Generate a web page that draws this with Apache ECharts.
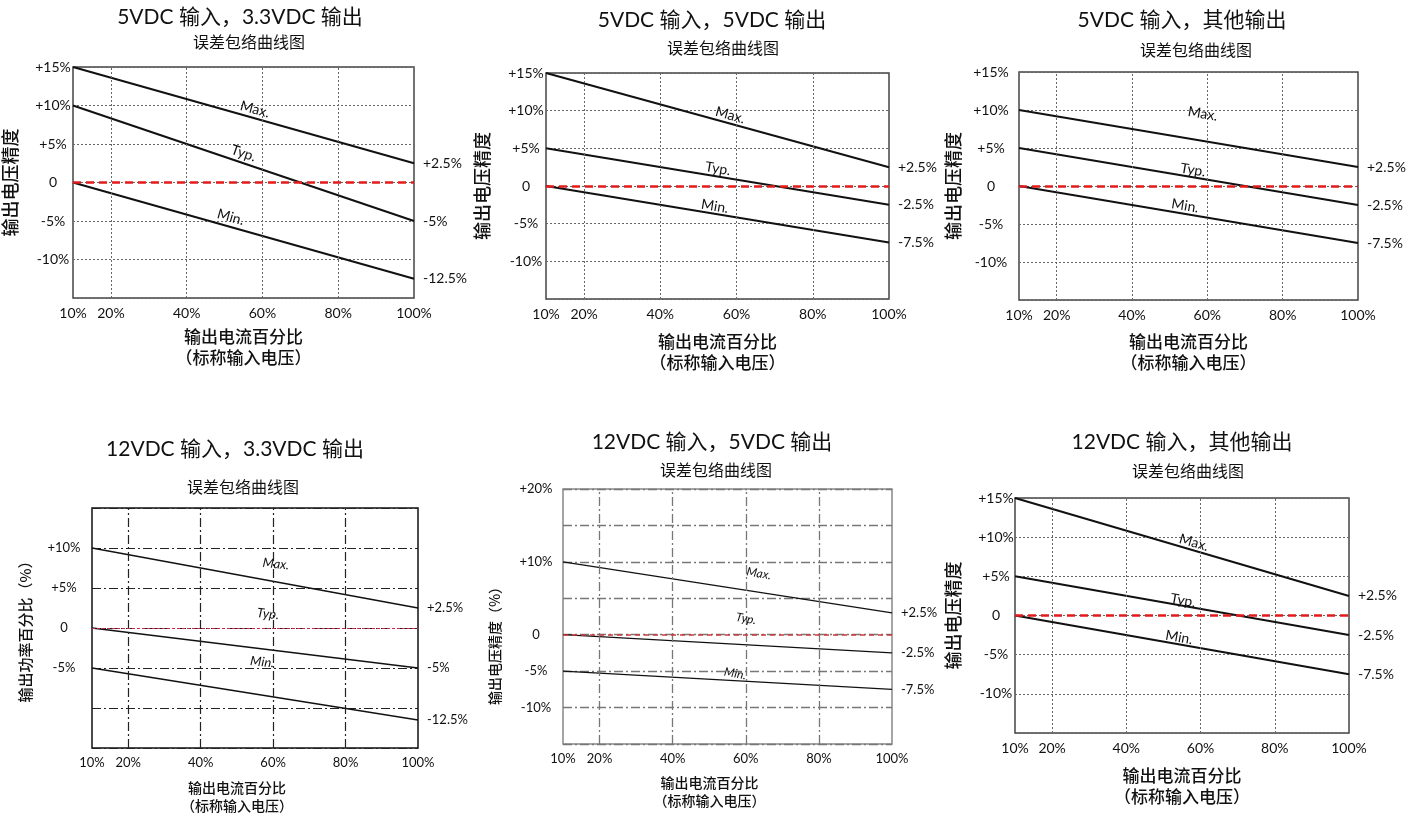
<!DOCTYPE html>
<html><head><meta charset="utf-8">
<script src="https://cdn.jsdelivr.net/npm/echarts@6/dist/echarts.min.js"></script>
<style>html,body{margin:0;padding:0;background:#fff}#c{width:1418px;height:818px}</style>
</head><body><div id="c"></div>
<script>
// ---------- data ----------
const loadPct = [10, 100];
const xTickVals = [10, 20, 40, 60, 80, 100];
const xTickText = ['10%', '20%', '40%', '60%', '80%', '100%'];
const xGridVals = [20, 40, 60, 80];
const curveNames = ['Max.', 'Typ.', 'Min.'];

const p1Max = [15, 2.5],  p1Typ = [10, -5],   p1Min = [0, -12.5];
const p2Max = [15, 2.5],  p2Typ = [5, -2.5],  p2Min = [0, -7.5];
const p3Max = [10, 2.5],  p3Typ = [5, -2.5],  p3Min = [0, -7.5];
const p4Max = [10, 2.5],  p4Typ = [0, -5],    p4Min = [-5, -11.5];
const p5Max = [10, 3],    p5Typ = [0, -2.5],  p5Min = [-5, -7.5];
const p6Max = [15, 2.5],  p6Typ = [5, -2.5],  p6Min = [0, -7.5];

const p1End = ['+2.5%', '-5%', '-12.5%'];
const p2End = ['+2.5%', '-2.5%', '-7.5%'];
const p3End = ['+2.5%', '-2.5%', '-7.5%'];
const p4End = ['+2.5%', '-5%', '-12.5%'];
const p5End = ['+2.5%', '-2.5%', '-7.5%'];
const p6End = ['+2.5%', '-2.5%', '-7.5%'];

const titles = ['5VDC 输入，3.3VDC 输出', '5VDC 输入，5VDC 输出', '5VDC 输入，其他输出',
                '12VDC 输入，3.3VDC 输出', '12VDC 输入，5VDC 输出', '12VDC 输入，其他输出'];
const subtitle = '误差包络曲线图';
const xName = '输出电流百分比\n（标称输入电压）';
const yNames = ['输出电压精度', '输出电压精度', '输出电压精度', '输出功率百分比（%）', '输出电压精度（%）', '输出电压精度'];

const yTickValsA = [15, 10, 5, 0, -5, -10], yTickTextA = ['+15%', '+10%', '+5%', '0', '-5%', '-10%'];
const yTickValsB = [10, 5, 0, -5],          yTickTextB = ['+10%', '+5%', '0', '-5%'];
const yTickValsC = [20, 10, 0, -5, -10],    yTickTextC = ['+20%', '+10%', '0', '-5%', '-10%'];

// positions (in data units) of the Max./Typ./Min. annotations
const noteX = [[58, 55, 51.6], [58.3, 55.1, 54.3], [58.8, 56.2, 54.1], [60.8, 58.6, 57], [63.6, 60.1, 57.1], [58.2, 55.3, 54.2]];
const noteY = [[9.5, 3.8, -4.5], [9.4, 2.3, -2.7], [9.5, 2.1, -2.6], [8, 1.75, -4.25], [8.4, 2.2, -5.35], [9.3, 1.9, -2.8]];

const curves = [[p1Max, p1Typ, p1Min], [p2Max, p2Typ, p2Min], [p3Max, p3Typ, p3Min],
                [p4Max, p4Typ, p4Min], [p5Max, p5Typ, p5Min], [p6Max, p6Typ, p6Min]];
const ends = [p1End, p2End, p3End, p4End, p5End, p6End];
const yTicks = [[yTickValsA, yTickTextA], [yTickValsA, yTickTextA], [yTickValsA, yTickTextA],
                [yTickValsB, yTickTextB], [yTickValsC, yTickTextC], [yTickValsA, yTickTextA]];

// ---------- layout / style ----------
const FONT = "'Century Gothic','Lato','Noto Sans CJK SC',sans-serif";
const CJK = "'Noto Sans CJK SC',sans-serif";
const DOT = [2, 2];
const DASHDOT = [9, 3, 2, 3];
const panels = [
  {g: {left: 72, top: 67, width: 342, height: 231}, yMax: 15, t: [240, 20], s: [249, 44], yGap: 54, yMargin: 20, xGap: 28, yShift: 0, xShift: 0,
   grid: {type: DOT, color: '#666', width: 1}, border: '#444', lw: 2, red: {color: '#e41b1b', width: 2.6, type: [8, 5]},
   tick: 14, nameFs: 17, yNameFs: 18, subFs: 16, endFs: 14, noteFs: 14, italic: false, rot: null},
  {g: {left: 546, top: 73, width: 343, height: 226}, yMax: 15, t: [712, 23], s: [723, 50], yGap: 55, yMargin: 20, xGap: 32, yShift: 0, xShift: 0,
   grid: {type: DOT, color: '#666', width: 1}, border: '#444', lw: 2, red: {color: '#e41b1b', width: 2.6, type: [8, 5]},
   tick: 14, nameFs: 17, yNameFs: 18, subFs: 16, endFs: 14, noteFs: 14, italic: false, rot: null},
  {g: {left: 1019, top: 72, width: 339, height: 228}, yMax: 15, t: [1182, 23], s: [1196, 52], yGap: 57, yMargin: 28, xGap: 31, yShift: 0, xShift: 0,
   grid: {type: DOT, color: '#666', width: 1}, border: '#444', lw: 2, red: {color: '#e41b1b', width: 2.6, type: [8, 5]},
   tick: 14, nameFs: 17, yNameFs: 18, subFs: 16, endFs: 14, noteFs: 14, italic: false, rot: null},
  {g: {left: 92, top: 508, width: 326, height: 240}, yMax: 15, t: [235, 452], s: [243, 489], yGap: 59, yMargin: 28, xGap: 31, yShift: 0, xShift: 18,
   grid: {type: DASHDOT, color: '#222', width: 1.2}, border: '#111', lw: 1.3, red: {color: '#c8284a', width: 1, type: [3, 2]},
   tick: 13, nameFs: 14, yNameFs: 15, subFs: 16, endFs: 13, noteFs: 13, italic: true, rot: -6},
  {g: {left: 563, top: 489, width: 329, height: 255}, yMax: 20, t: [712, 445], s: [716, 472], yGap: 61, yMargin: 27, xGap: 30, yShift: 26, xShift: 18,
   grid: {type: DASHDOT, color: '#777', width: 1.3}, border: '#888', lw: 1.2, red: {color: '#d03838', width: 1.6, type: [5, 4]},
   tick: 13, nameFs: 14, yNameFs: 14, subFs: 16, endFs: 13, noteFs: 12, italic: true, rot: -10},
  {g: {left: 1015, top: 498, width: 334, height: 235}, yMax: 15, t: [1182, 445], s: [1188, 473], yGap: 53, yMargin: 19, xGap: 32, yShift: 0, xShift: 0,
   grid: {type: DOT, color: '#666', width: 1}, border: '#444', lw: 2, red: {color: '#e41b1b', width: 2.6, type: [8, 5]},
   tick: 14, nameFs: 17, yNameFs: 18, subFs: 16, endFs: 14, noteFs: 14, italic: false, rot: null}
];
const Y_MIN = -15;

const option = {
  backgroundColor: '#fff', animation: false,
  title: [], grid: [], xAxis: [], yAxis: [], series: []
};

panels.forEach((p, i) => {
  option.title.push({text: titles[i], left: p.t[0], top: p.t[1] - 13, textAlign: 'center', padding: 0,
    textStyle: {fontSize: 21, fontWeight: 'normal', color: '#111', fontFamily: FONT}});
  option.title.push({text: subtitle, left: p.s[0], top: p.s[1] - p.subFs / 2 - 2, textAlign: 'center', padding: 0,
    textStyle: {fontSize: p.subFs, fontWeight: 'normal', color: '#111', fontFamily: CJK}});
  option.grid.push(Object.assign({show: true, borderColor: p.border, borderWidth: 1.5, backgroundColor: 'transparent', containLabel: false}, p.g));
  option.xAxis.push({
    type: 'value', gridIndex: i, min: 10, max: 100, interval: 10,
    axisLine: {show: false}, axisTick: {show: false}, splitLine: {show: false},
    axisLabel: {show: true, showMinLabel: true, showMaxLabel: true, margin: 8, fontSize: p.tick, color: '#111', fontFamily: FONT,
      formatter: v => { const k = xTickVals.indexOf(v); return k >= 0 ? xTickText[k] : ''; }},
    name: xName, nameLocation: 'middle', nameGap: p.xGap,
    nameTextStyle: {fontSize: p.nameFs, lineHeight: p.nameFs + 4, color: '#111', fontFamily: CJK, fontWeight: 500,
      padding: [0, p.xShift * 2, 0, 0]}
  });
  const yt = yTicks[i];
  option.yAxis.push({
    type: 'value', gridIndex: i, min: Y_MIN, max: p.yMax, interval: 5,
    axisLine: {show: false}, axisTick: {show: false},
    splitLine: {show: true, lineStyle: {type: p.grid.type, color: p.grid.color, width: p.grid.width}},
    axisLabel: {show: true, margin: p.yMargin, align: 'center', fontSize: p.tick, color: '#111', fontFamily: FONT,
      formatter: v => { const k = yt[0].indexOf(v); return k >= 0 ? yt[1][k] : ''; }},
    name: yNames[i], nameLocation: 'middle', nameGap: p.yGap, nameRotate: 90,
    nameTextStyle: {fontSize: p.yNameFs, color: '#111', fontFamily: CJK, fontWeight: 500,
      padding: [0, p.yShift * 2, 0, 0]}
  });
  const pxX = p.g.width / (loadPct[1] - loadPct[0]);
  const pxY = p.g.height / (p.yMax - Y_MIN);
  curves[i].forEach((vals, k) => {
    const ang = Math.atan2((vals[0] - vals[1]) * pxY, (loadPct[1] - loadPct[0]) * pxX) * 180 / Math.PI;
    const s = {
      type: 'line', xAxisIndex: i, yAxisIndex: i, name: curveNames[k],
      data: loadPct.map((x, j) => [x, vals[j]]),
      showSymbol: false, symbol: 'none', silent: true, z: 3,
      lineStyle: {color: '#111', width: p.lw},
      endLabel: {show: true, distance: 9, formatter: () => ends[i][k], fontSize: p.endFs, color: '#111', fontFamily: FONT},
      markPoint: {
        symbol: 'circle', symbolSize: 2, silent: true, animation: false,
        itemStyle: {color: 'rgba(0,0,0,0)'},
        label: {show: true, position: 'inside', formatter: curveNames[k], fontSize: p.noteFs, color: '#111', fontFamily: FONT,
          fontStyle: p.italic ? 'italic' : 'normal', rotate: p.rot !== null ? p.rot : -ang},
        data: [{name: curveNames[k], coord: [noteX[i][k], noteY[i][k]]}]
      }
    };
    if (k === 2) {
      s.markLine = {
        silent: true, symbol: ['none', 'none'], label: {show: false}, animation: false,
        data: xGridVals.map(x => ({xAxis: x, lineStyle: {type: p.grid.type, color: p.grid.color, width: p.grid.width}}))
          .concat([{yAxis: 0, lineStyle: {type: p.red.type, color: p.red.color, width: p.red.width, opacity: 1}}])
      };
    }
    option.series.push(s);
  });
});

const chart = echarts.init(document.getElementById('c'), null, {renderer: 'canvas'});
chart.setOption(option);
</script></body></html>
